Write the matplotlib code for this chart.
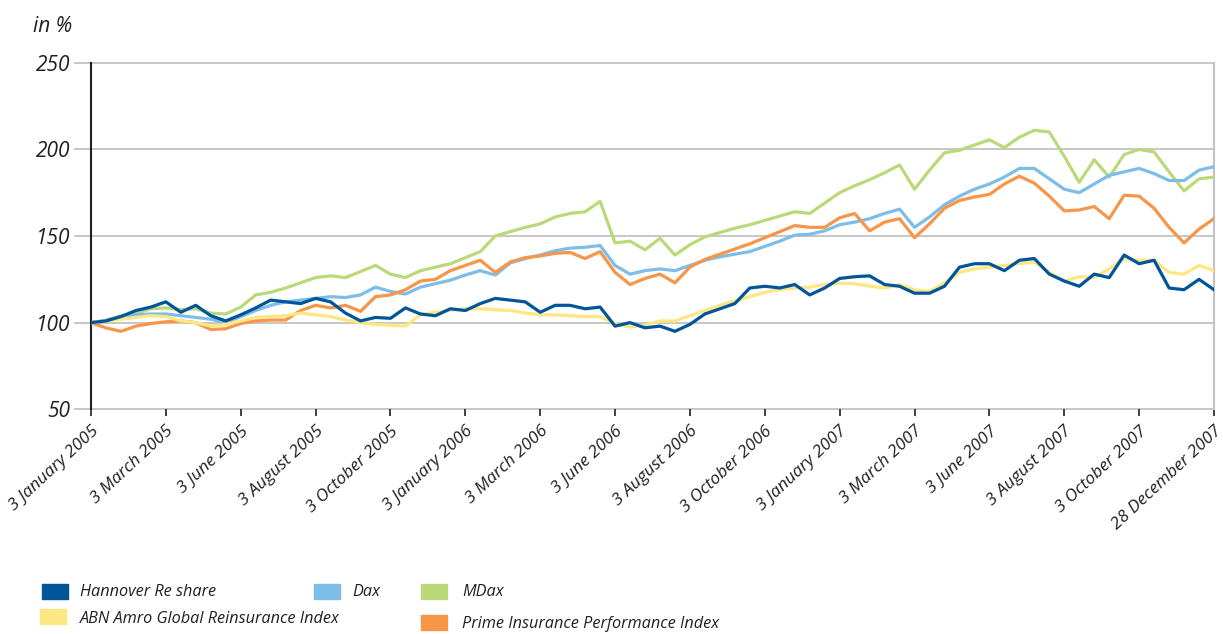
import numpy as np
import matplotlib
matplotlib.use("Agg")
import matplotlib.pyplot as plt
import matplotlib.transforms as mtransforms
from matplotlib.patches import Rectangle

# ---- data (sampled every 1/5 of a tick interval, 76 points) ----
tick_labels = ["3 January 2005", "3 March 2005", "3 June 2005", "3 August 2005",
               "3 October 2005", "3 January 2006", "3 March 2006", "3 June 2006",
               "3 August 2006", "3 October 2006", "3 January 2007", "3 March 2007",
               "3 June 2007", "3 August 2007", "3 October 2007", "28 December 2007"]

hannover = [100, 101, 103.5, 107, 109, 112, 106, 110, 104, 101,
            104.5, 108.5, 113, 112, 111, 114, 112, 105.5, 101, 103,
            102.5, 108.5, 105, 104, 108, 107, 111, 114, 113, 112,
            106, 110, 110, 108, 109, 98, 100, 97, 98, 95,
            99, 105, 108, 111, 120, 121, 120, 122, 116, 120,
            125.5, 126.5, 127, 122, 121, 117, 117, 121, 132, 134,
            134, 130, 136, 137, 128, 124, 121, 128, 126, 139,
            134, 136, 120, 119, 125, 119]

abn_amro = [100, 101, 102, 103, 104, 103.5, 101, 100, 98, 99,
            101, 103, 103.5, 104, 105.5, 104.5, 103.5, 101.5, 100, 99,
            98.5, 98, 104.5, 106, 107, 108, 108, 107.5, 107, 105.5,
            104.5, 104.5, 104, 103.5, 103.5, 99.5, 97.5, 98.5, 101, 101,
            104, 107, 110, 112.5, 115, 117.5, 119, 120, 120.5, 122,
            122.7, 122.5, 121, 120, 122, 119, 118, 123, 129, 131,
            132, 133, 134, 135, 129, 124, 126.5, 126, 131, 137,
            136, 136, 129, 128, 133, 130]

dax = [100, 101, 103.5, 104.5, 105, 105, 104, 103, 102, 100,
       103.5, 107, 110, 112, 113, 114, 115, 114.5, 116, 120.5,
       118, 116.5, 120.5, 122.5, 124.5, 127.5, 130, 127.5, 134.5, 137,
       139, 141.5, 143, 143.5, 144.5, 133, 128, 130, 131, 130,
       133, 136, 138, 139.5, 141, 144, 147, 150.5, 151, 153,
       156.5, 158, 160, 163, 165.5, 155, 161, 168, 173, 177,
       180, 184, 189, 189, 183, 177, 175, 180, 185, 187,
       189, 186, 182, 182, 188, 190]

mdax = [100, 101.5, 104, 105.5, 108, 108.5, 107.5, 108, 105.5, 105,
        109, 116, 117.5, 120, 123, 126, 127, 126, 129.5, 133,
        128, 126, 130, 132, 134, 137.5, 141, 150, 152.5, 155,
        157, 161, 163, 164, 170, 146, 147, 142, 148.7, 139,
        145, 149.5, 152, 154.5, 156.5, 159, 161.5, 164, 163, 169,
        175, 179, 182.5, 186.5, 191, 177, 188, 198, 199.5, 202.5,
        205.5, 201, 207, 211, 210, 196, 181, 194, 184, 197,
        200, 198.5, 187, 176, 183, 184]

prime = [100, 97, 95, 98, 99.5, 100.5, 101, 100, 96, 96.5,
         99.5, 101, 101.5, 101.5, 107, 110, 108.5, 110, 106.5, 115,
         116, 119, 124, 125, 130, 133, 136, 129, 135, 137.5,
         138.5, 140, 140.5, 137, 141, 129, 122, 125.5, 128, 123,
         132, 136.5, 139.5, 142.5, 145.5, 149, 152.5, 156, 155, 155,
         160.5, 163, 153, 158, 160, 149, 157, 166, 170.5, 172.5,
         174, 180, 184.5, 180.5, 173, 164.5, 165, 167, 160, 173.5,
         173, 166, 155, 146, 154, 160]

colors = {"Hannover Re share": "#00559a", "Dax": "#7dbde8", "MDax": "#bbd979",
          "ABN Amro Global Reinsurance Index": "#fde783",
          "Prime Insurance Performance Index": "#f79548"}
series = {"Hannover Re share": hannover, "Dax": dax, "MDax": mdax,
          "ABN Amro Global Reinsurance Index": abn_amro,
          "Prime Insurance Performance Index": prime}
y_ticks = [50, 100, 150, 200, 250]

# ---- figure ----
W, H = 1223, 634
fig = plt.figure(figsize=(W / 100, H / 100), dpi=100)
L, R, T, B = 91, 1214, 62.7, 409.3
ax = fig.add_axes([L / W, 1 - B / H, (R - L) / W, (B - T) / H])

font = "Open Sans"
txtcol = "#231f20"

n = len(hannover)
x = np.arange(n)
draw_order = ["MDax", "Dax", "Prime Insurance Performance Index",
              "ABN Amro Global Reinsurance Index", "Hannover Re share"]
for name in draw_order:
    ax.plot(x, series[name], color=colors[name], lw=2.3, solid_joinstyle="round", zorder=3)

ax.set_xlim(0, n - 1)
ax.set_ylim(50, 250)

# gridlines extending slightly left of the axis
trans = mtransforms.blended_transform_factory(ax.transAxes, ax.transData)
for yv in y_ticks:
    ax.plot([-16 / (R - L), 1], [yv, yv], transform=trans, color="#c3c3c3",
            lw=1.3, clip_on=False, zorder=1)

for s in ["top", "bottom"]:
    ax.spines[s].set_visible(False)
ax.spines["right"].set_color("#c3c3c3")
ax.spines["right"].set_linewidth(1.5)
ax.spines["left"].set_color("#231f20")
ax.spines["left"].set_linewidth(1.5)

ax.set_yticks(y_ticks)
ax.set_yticklabels([str(v) for v in y_ticks], fontfamily=font, fontstyle="italic",
                   fontsize=15, color=txtcol)
ax.tick_params(axis="y", length=0, pad=15)

tick_pos = np.linspace(0, n - 1, len(tick_labels))
ax.set_xticks(tick_pos)
ax.set_xticklabels(tick_labels, rotation=43, ha="right", va="top",
                   rotation_mode="anchor", fontfamily=font, fontstyle="italic",
                   fontsize=12.5, color=txtcol)
ax.tick_params(axis="x", length=5, color="#231f20", width=1.2, pad=5)

fig.text(33 / W, 1 - 27 / H, "in %", fontfamily=font, fontstyle="italic",
         fontsize=15, color=txtcol, va="center", ha="left")

# legend (manual layout): name, patch x, patch top y, text x, text centre y
legend_items = [("Hannover Re share", 42, 584, 80, 592),
                ("Dax", 314, 584, 352, 592),
                ("MDax", 421, 584, 462, 592),
                ("ABN Amro Global Reinsurance Index", 40, 609, 80, 619),
                ("Prime Insurance Performance Index", 421, 615, 462, 624)]
for name, px, py, tx, ty in legend_items:
    fig.patches.append(Rectangle((px / W, 1 - (py + 15) / H), 26 / W, 15 / H,
                                 transform=fig.transFigure, color=colors[name]))
    fig.text(tx / W, 1 - ty / H, name, fontfamily=font, fontstyle="italic",
             fontsize=11.7, color=txtcol, va="center", ha="left")

fig.savefig("out.png", dpi=100)
